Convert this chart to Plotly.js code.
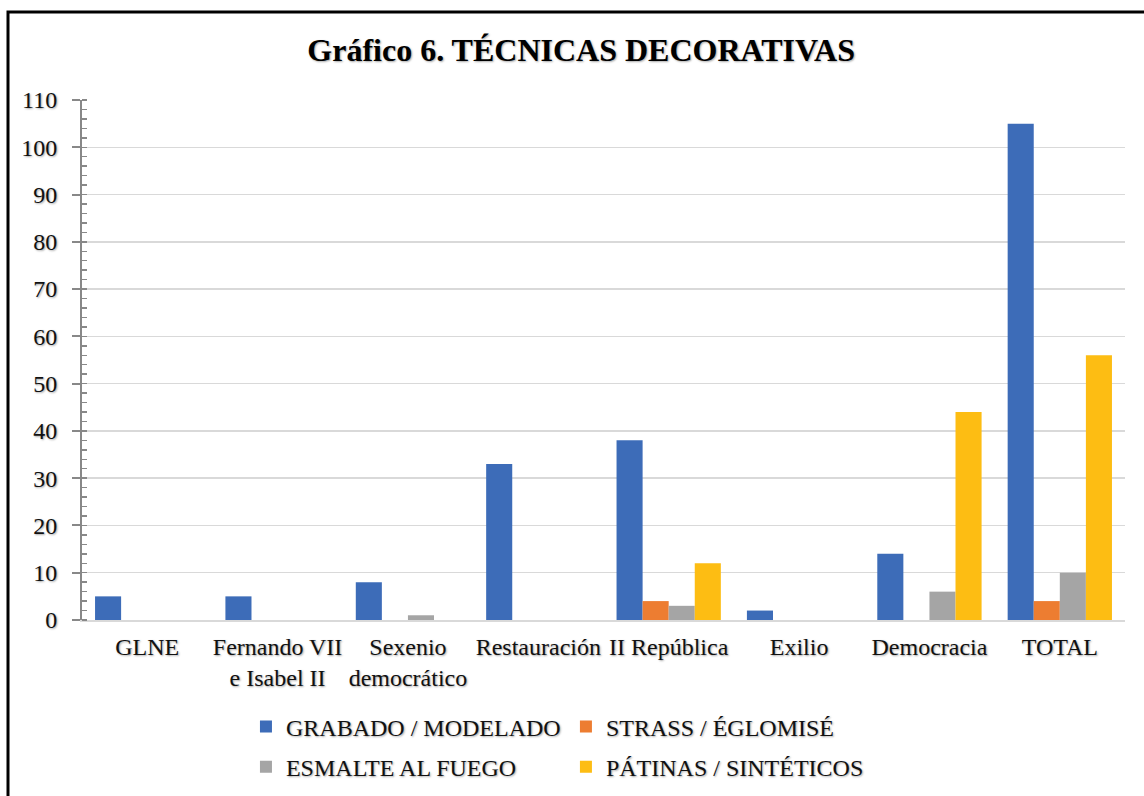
<!DOCTYPE html>
<html>
<head>
<meta charset="utf-8">
<script src="https://cdn.plot.ly/plotly-3.0.1.min.js"></script>
<style>html,body{margin:0;padding:0;background:#fff;}#chart{width:1144px;height:796px;}</style>
</head>
<body>
<div id="chart"></div>
<script>
const categories = ["GLNE", "Fernando VII<br>e Isabel II", "Sexenio<br>democrático", "Restauración", "II República", "Exilio", "Democracia", "TOTAL"];
const seriesNames = ["GRABADO / MODELADO", "STRASS / ÉGLOMISÉ", "ESMALTE AL FUEGO", "PÁTINAS / SINTÉTICOS"];
const grabadoModelado = [5, 5, 8, 33, 38, 2, 14, 105];
const strassEglomise = [0, 0, 0, 0, 4, 0, 0, 4];
const esmalteFuego = [0, 0, 1, 0, 3, 0, 6, 10];
const patinasSinteticos = [0, 0, 0, 0, 12, 0, 44, 56];
const yTicks = [0, 10, 20, 30, 40, 50, 60, 70, 80, 90, 100, 110];

const colors = ["#3D6CB8", "#ED7D31", "#A5A5A5", "#FDBD13"];
const values = [grabadoModelado, strassEglomise, esmalteFuego, patinasSinteticos];
const legendIds = ["legend", "legend2", "legend3", "legend4"];

const fontFam = "Liberation Serif, Times New Roman, serif";
const shadow = "1px 1px 2px rgba(0,0,0,0.35)";

const traces = values.map((v, i) => ({
  type: "bar",
  name: seriesNames[i],
  x: categories,
  y: v,
  marker: {color: colors[i], line: {width: 0}},
  legend: legendIds[i],
  hoverinfo: "x+y+name"
}));

const legendPos = [[0.2150, 0.0867], [0.4947, 0.0867], [0.2150, 0.0364], [0.4947, 0.0364]];
const legendBase = (p) => ({
  xref: "container", yref: "container",
  x: p[0], y: p[1], xanchor: "left", yanchor: "middle",
  bgcolor: "rgba(0,0,0,0)", borderwidth: 0,
  font: {family: fontFam, size: 24, color: "#111", shadow: shadow}
});

const layout = {
  width: 1144, height: 796,
  margin: {l: 82, r: 19, t: 100, b: 176, autoexpand: false},
  paper_bgcolor: "#fff", plot_bgcolor: "#fff",
  barmode: "group", bargap: 0.2, bargroupgap: 0,
  font: {family: fontFam, size: 24, color: "#111"},
  title: {
    text: "<b>Gráfico 6. TÉCNICAS DECORATIVAS</b>",
    xref: "container", yref: "container",
    x: 0.508, y: 1 - 50/796, xanchor: "center", yanchor: "middle",
    font: {family: fontFam, size: 32, color: "#000", shadow: shadow}
  },
  xaxis: {
    type: "category",
    showgrid: false, zeroline: false,
    showline: true, linecolor: "#d9d9d9", linewidth: 2,
    ticks: "", tickfont: {family: fontFam, size: 24, color: "#111", shadow: shadow},
    ticklabelstandoff: 4,
    automargin: false,
    fixedrange: true
  },
  yaxis: {
    range: [0, 110], tickvals: yTicks, ticktext: yTicks.map(String),
    showgrid: true, gridcolor: "#d9d9d9", gridwidth: 1.5,
    zeroline: false,
    showline: true, linecolor: "#888", linewidth: 2,
    ticks: "outside", ticklen: 8, tickcolor: "#888", tickwidth: 2,
    minor: {dtick: 2, ticks: "inside", ticklen: 5, tickcolor: "#888", tickwidth: 1.5, showgrid: false},
    tickfont: {family: fontFam, size: 24, color: "#111", shadow: shadow},
    ticklabelstandoff: 10,
    automargin: false,
    fixedrange: true
  },
  shapes: [{
    type: "rect", xref: "paper", yref: "paper",
    x0: (8 - 82) / 1043, x1: (1160 - 82) / 1043,
    y0: (620 - 810) / 520, y1: (620 - 12) / 520,
    line: {color: "#000", width: 3}, fillcolor: "rgba(0,0,0,0)", layer: "above"
  }],
  showlegend: true
};
legendIds.forEach((id, i) => { layout[id] = legendBase(legendPos[i]); });

Plotly.newPlot("chart", traces, layout, {displayModeBar: false, staticPlot: true});
</script>
</body>
</html>
